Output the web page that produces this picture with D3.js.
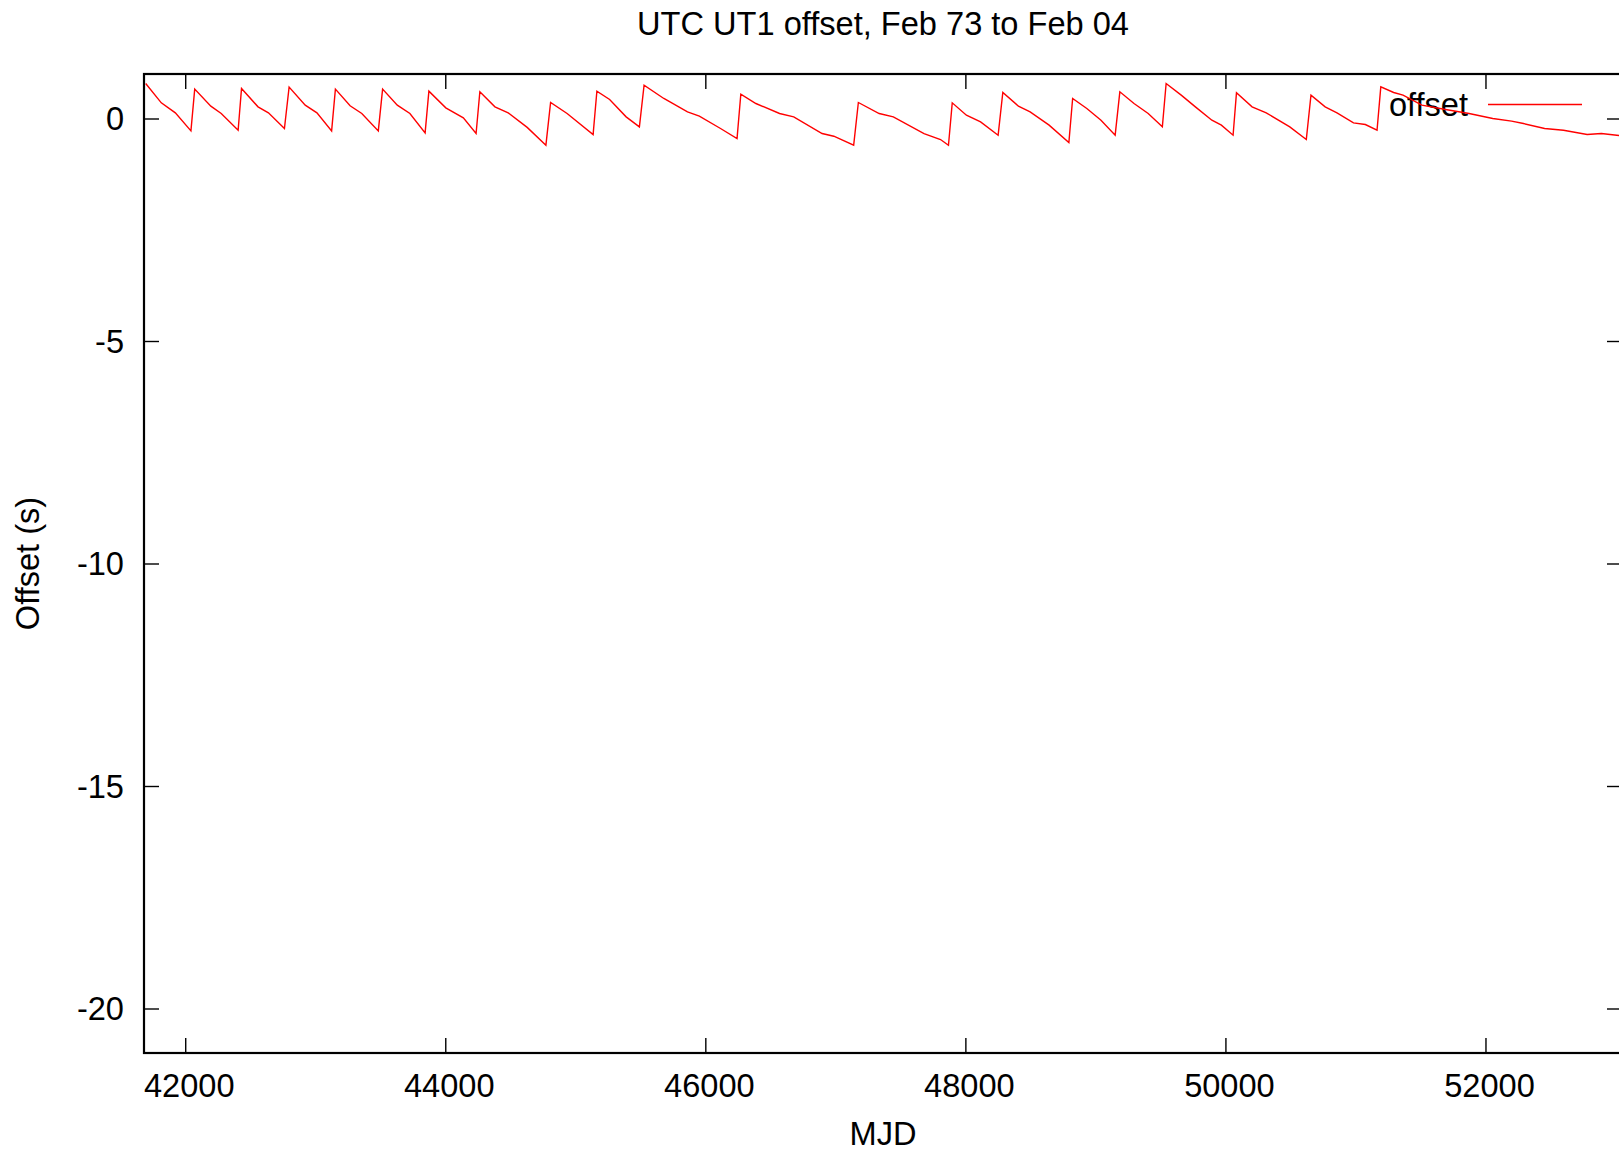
<html>
<head>
    <title>UTC UT1 offset</title>
    <script type="text/javascript" src="https://cdn.jsdelivr.net/npm/d3@7/dist/d3.min.js"></script>
    <style>
        body { margin: 0; background: #ffffff; }
        text { font-family: "Liberation Sans", Arial, sans-serif; fill: #000000; }
    </style>
</head>
<body>

<div id="chart-container"></div>

<script type="text/javascript">

    // UT1-UTC offset: MJD and offset in seconds
    var mjd = [
        41696, 41816, 41924, 42044,
        42073, 42197, 42277, 42407,
        42433, 42560, 42640, 42763,
        42799, 42923, 43013, 43126,
        43155, 43268, 43358, 43485,
        43518, 43631, 43728, 43845,
        43874, 44004, 44139, 44237,
        44266, 44382, 44484, 44630, 44774,
        44810, 44937, 45137,
        45166, 45264, 45391, 45493,
        45529, 45681, 45863, 45954, 46117, 46244,
        46273, 46389, 46571, 46680, 46898, 46988, 47141,
        47177, 47337, 47446, 47682, 47809, 47870,
        47899, 48008, 48117, 48252,
        48288, 48408, 48498, 48644, 48796,
        48825, 48934, 49043, 49152,
        49188, 49297, 49406, 49515,
        49544, 49660, 49769, 49896, 49969, 50059,
        50085, 50205, 50314, 50495, 50622,
        50658, 50767, 50858, 50985, 51076, 51166,
        51195, 51294, 51366, 51511, 51693, 51874, 52056, 52201, 52292, 52455, 52600, 52782, 52891, 53029
    ];
    var offset = [
        0.787, 0.352, 0.127, -0.278,
        0.660, 0.277, 0.112, -0.263,
        0.675, 0.262, 0.127, -0.225,
        0.705, 0.300, 0.127, -0.278,
        0.660, 0.285, 0.112, -0.278,
        0.660, 0.300, 0.112, -0.323,
        0.615, 0.240, 0.015, -0.338,
        0.600, 0.262, 0.127, -0.200, -0.600,
        0.360, 0.112, -0.360,
        0.615, 0.427, 0.037, -0.188,
        0.750, 0.450, 0.150, 0.052, -0.225, -0.450,
        0.547, 0.337, 0.112, 0.037, -0.338, -0.398, -0.600,
        0.360, 0.112, 0.037, -0.338, -0.473, -0.600,
        0.352, 0.075, -0.075, -0.375,
        0.585, 0.277, 0.150, -0.150, -0.540,
        0.450, 0.225, -0.038, -0.375,
        0.600, 0.337, 0.112, -0.188,
        0.787, 0.525, 0.262, -0.038, -0.150, -0.375,
        0.577, 0.262, 0.127, -0.188, -0.473,
        0.525, 0.262, 0.127, -0.098, -0.135, -0.263,
        0.712, 0.585, 0.525, 0.300, 0.202, 0.112, 0.000, -0.060, -0.113, -0.225, -0.263, -0.360, -0.338, -0.383
    ];

    var xTicks = [42000, 44000, 46000, 48000, 50000, 52000];
    var yTicks = [0, -5, -10, -15, -20];

    var WIDTH = 1619;
    var HEIGHT = 1154;
    var LEFT = 144, RIGHT = 1622, TOP = 74, BOTTOM = 1053;
    var TICK = 15;
    var FONT = 32.6;

    var canvas = d3.select("#chart-container").append("svg")
        .attr("width", WIDTH)
        .attr("height", HEIGHT);

    var x = d3.scaleLinear().domain([41683, 53050]).range([LEFT, RIGHT]);
    var y = d3.scaleLinear().domain([-21, 1]).range([BOTTOM, TOP]);

    // Axes with inward ticks on all four sides (gnuplot style mirror ticks)
    var bottomAxis = canvas.append("g")
        .attr("transform", "translate(0," + BOTTOM + ")")
        .call(d3.axisBottom(x).tickValues(xTicks).tickSizeInner(-TICK).tickSizeOuter(0).tickFormat(d3.format("d")));
    bottomAxis.selectAll("text")
        .attr("y", 44).attr("dy", null).attr("dx", 3.5)
        .attr("font-size", FONT).attr("fill", "#000");

    canvas.append("g")
        .attr("transform", "translate(0," + TOP + ")")
        .call(d3.axisTop(x).tickValues(xTicks).tickSizeInner(-TICK).tickSizeOuter(0).tickFormat(""));

    var leftAxis = canvas.append("g")
        .attr("transform", "translate(" + LEFT + ",0)")
        .call(d3.axisLeft(y).tickValues(yTicks).tickSizeInner(-TICK).tickSizeOuter(0).tickFormat(function(d) { return d; }));
    leftAxis.selectAll("text")
        .attr("x", -20).attr("dy", 11)
        .attr("font-size", FONT).attr("fill", "#000");

    canvas.append("g")
        .attr("transform", "translate(" + RIGHT + ",0)")
        .call(d3.axisRight(y).tickValues(yTicks).tickSizeInner(-TICK).tickSizeOuter(0).tickFormat(""));

    canvas.selectAll(".domain").remove();
    canvas.selectAll(".tick line").attr("stroke", "#000").attr("stroke-width", 1.4);

    // Plot border
    canvas.append("rect")
        .attr("x", LEFT).attr("y", TOP)
        .attr("width", RIGHT - LEFT).attr("height", BOTTOM - TOP)
        .attr("fill", "none")
        .attr("stroke", "#000")
        .attr("stroke-width", 2.2);

    // Title and axis labels
    canvas.append("text")
        .attr("x", (LEFT + RIGHT) / 2).attr("y", 35)
        .attr("text-anchor", "middle").attr("font-size", FONT)
        .text("UTC UT1 offset, Feb 73 to Feb 04");

    canvas.append("text")
        .attr("x", (LEFT + RIGHT) / 2).attr("y", 1145)
        .attr("text-anchor", "middle").attr("font-size", FONT)
        .text("MJD");

    canvas.append("text")
        .attr("transform", "translate(39," + (TOP + BOTTOM) / 2 + ") rotate(-90)")
        .attr("text-anchor", "middle").attr("font-size", FONT)
        .text("Offset (s)");

    // Key
    canvas.append("text")
        .attr("x", 1468).attr("y", 116)
        .attr("text-anchor", "end").attr("font-size", FONT)
        .text("offset");
    canvas.append("line")
        .attr("x1", 1488).attr("x2", 1582)
        .attr("y1", 104.5).attr("y2", 104.5)
        .attr("stroke", "#ff0000").attr("stroke-width", 1.4);

    // The offset curve
    var points = mjd.map(function(m, i) { return [m, offset[i]]; });
    var line = d3.line()
        .x(function(d) { return x(d[0]); })
        .y(function(d) { return y(d[1]); });

    canvas.append("path")
        .datum(points)
        .attr("d", line)
        .attr("fill", "none")
        .attr("stroke", "#ff0000")
        .attr("stroke-width", 1.4);

</script>

</body>
</html>
